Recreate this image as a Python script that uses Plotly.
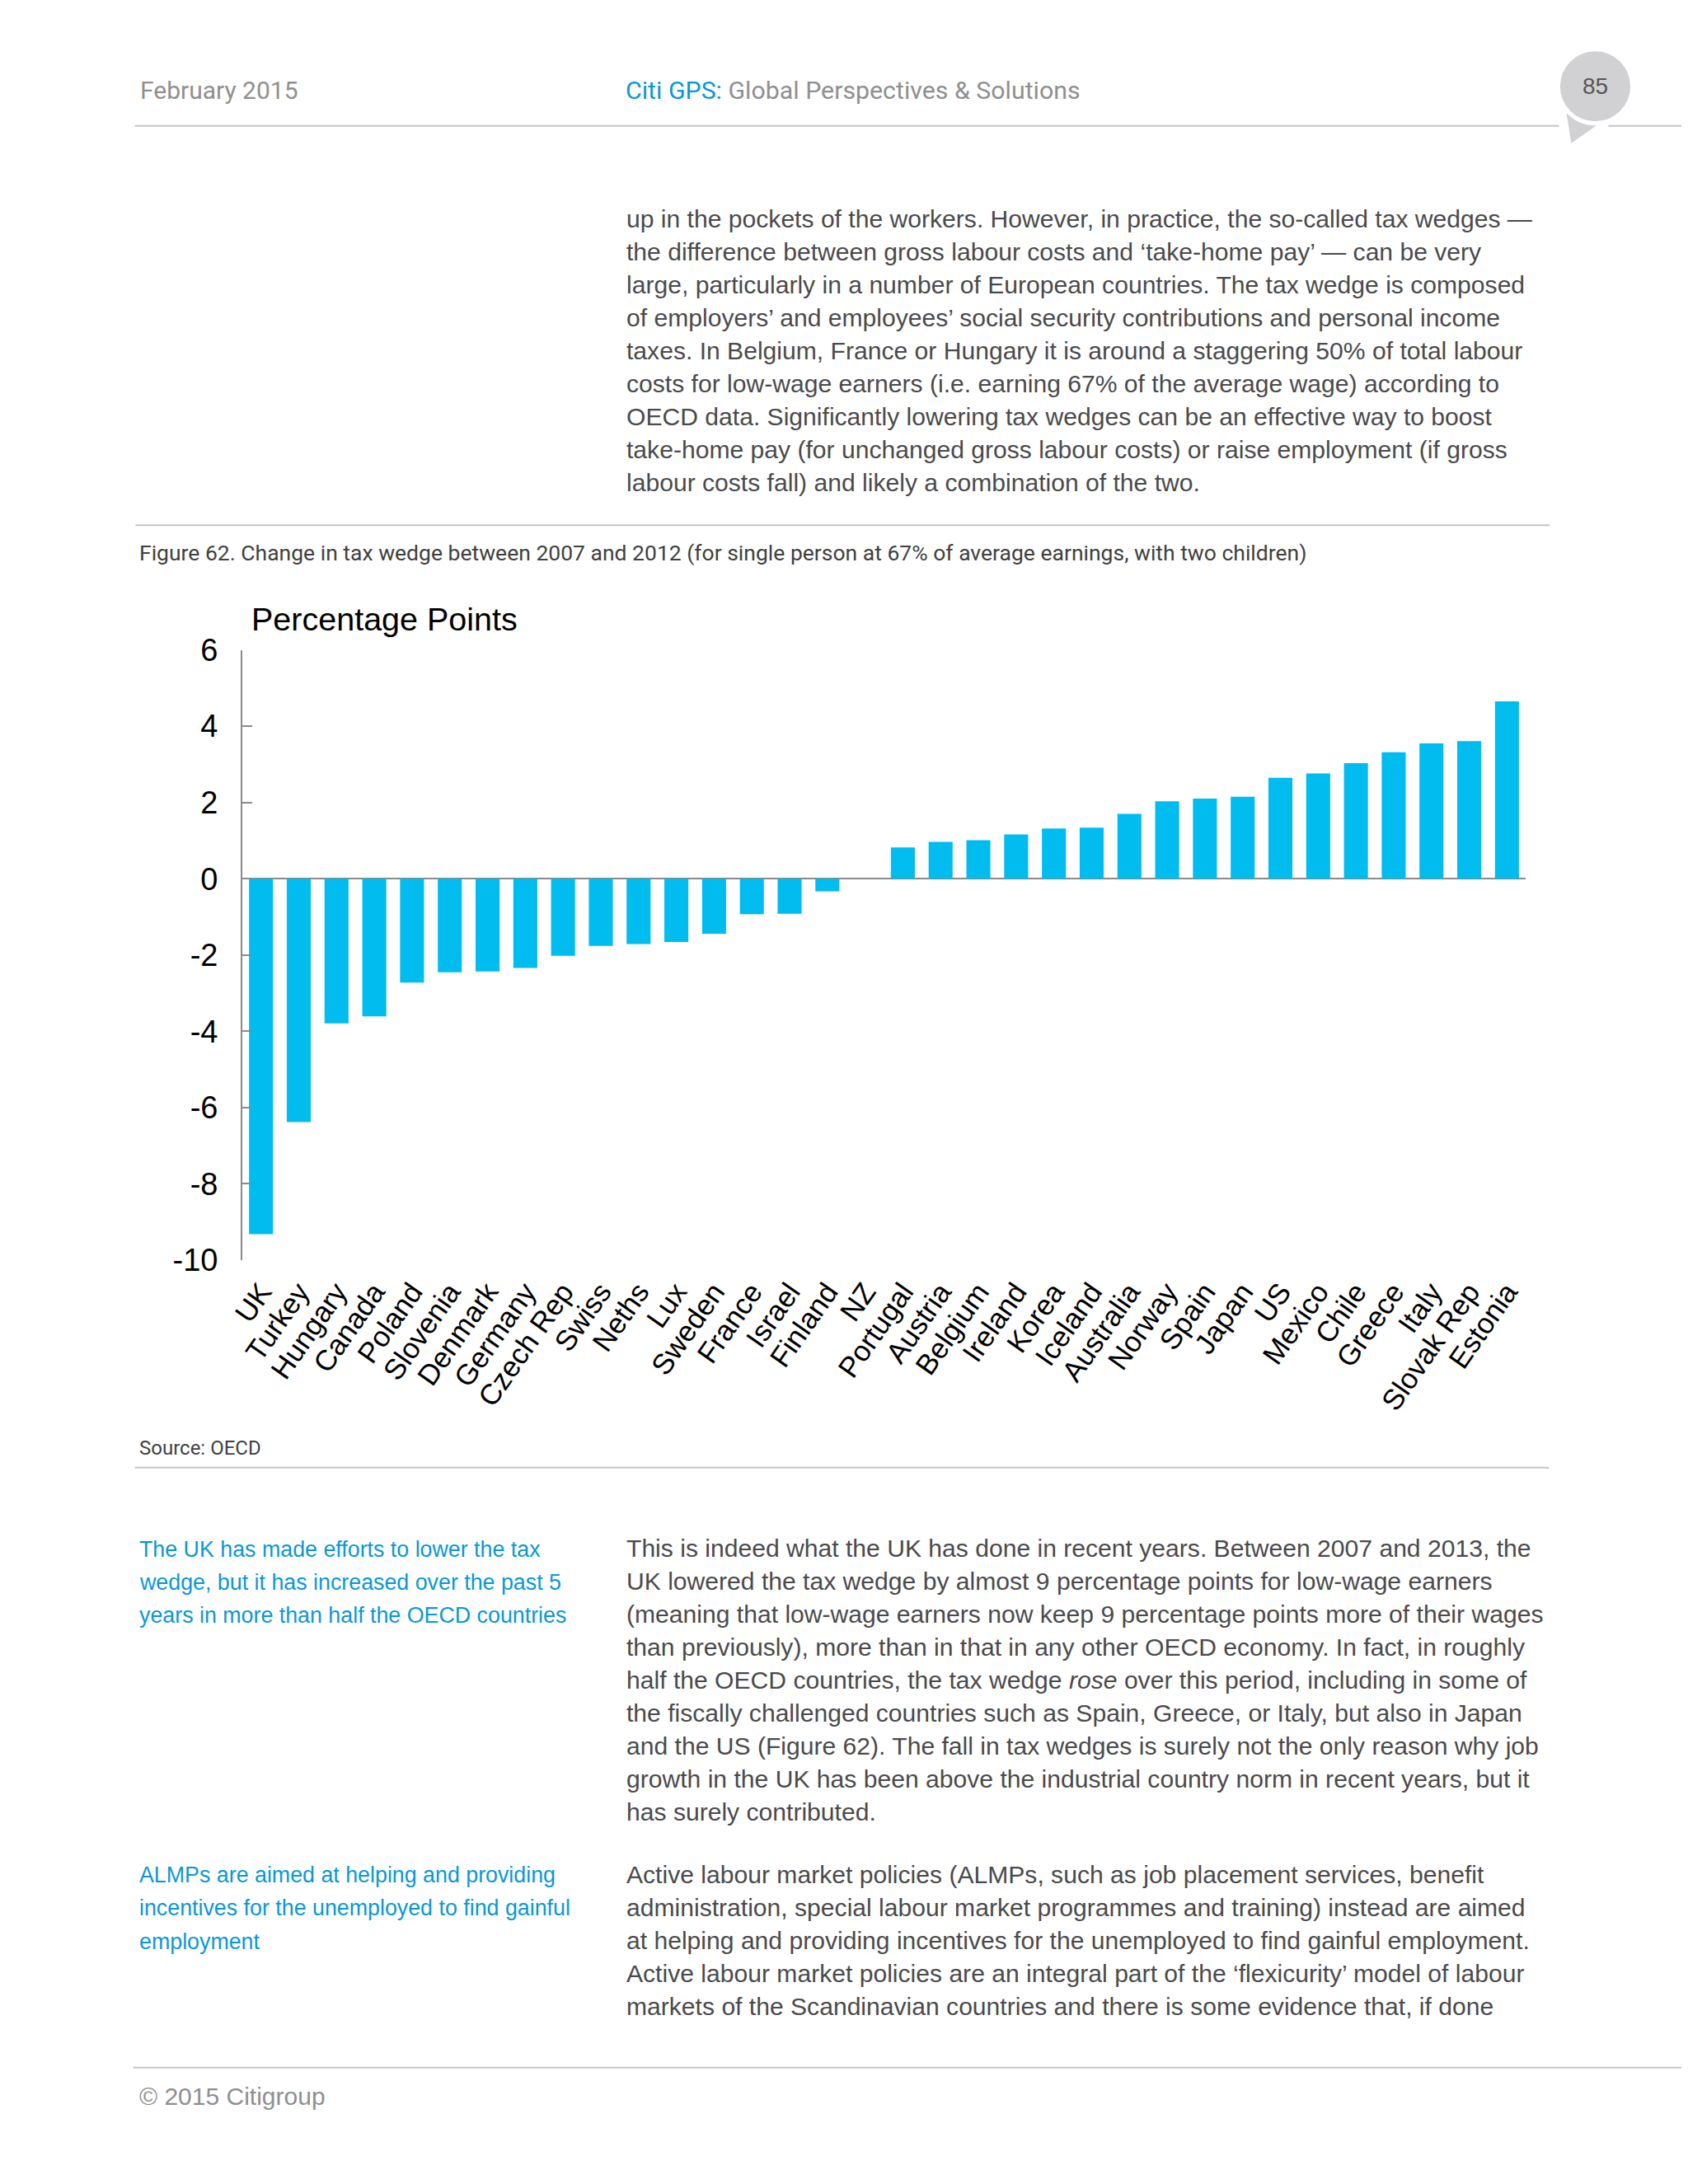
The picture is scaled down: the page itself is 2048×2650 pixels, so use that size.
import plotly.graph_objects as go

# ---------------- data ----------------
countries = ["UK", "Turkey", "Hungary", "Canada", "Poland", "Slovenia", "Denmark",
             "Germany", "Czech Rep", "Swiss", "Neths", "Lux", "Sweden", "France",
             "Israel", "Finland", "NZ", "Portugal", "Austria", "Belgium", "Ireland",
             "Korea", "Iceland", "Australia", "Norway", "Spain", "Japan", "US",
             "Mexico", "Chile", "Greece", "Italy", "Slovak Rep", "Estonia"]
values = [-9.32, -6.38, -3.79, -3.61, -2.72, -2.45, -2.43, -2.34, -2.02, -1.76,
          -1.71, -1.66, -1.44, -0.93, -0.92, -0.33, 0.0, 0.82, 0.97, 1.01, 1.16,
          1.32, 1.34, 1.70, 2.03, 2.10, 2.15, 2.65, 2.76, 3.03, 3.32, 3.55, 3.61, 4.65]
y_tickvals = [6, 4, 2, 0, -2, -4, -6, -8, -10]
y_ticktext = ["6", "4", "2", "0", "-2", "-4", "-6", "-8", "-10"]

para1 = [
    "up in the pockets of the workers. However, in practice, the so-called tax wedges \u2014",
    "the difference between gross labour costs and \u2018take-home pay\u2019 \u2014 can be very",
    "large, particularly in a number of European countries. The tax wedge is composed",
    "of employers\u2019 and employees\u2019 social security contributions and personal income",
    "taxes. In Belgium, France or Hungary it is around a staggering 50% of total labour",
    "costs for low-wage earners (i.e. earning 67% of the average wage) according to",
    "OECD data. Significantly lowering tax wedges can be an effective way to boost",
    "take-home pay (for unchanged gross labour costs) or raise employment (if gross",
    "labour costs fall) and likely a combination of the two.",
]
para2 = [
    "This is indeed what the UK has done in recent years. Between 2007 and 2013, the",
    "UK lowered the tax wedge by almost 9 percentage points for low-wage earners",
    "(meaning that low-wage earners now keep 9 percentage points more of their wages",
    "than previously), more than in that in any other OECD economy. In fact, in roughly",
    "half the OECD countries, the tax wedge <i>rose</i> over this period, including in some of",
    "the fiscally challenged countries such as Spain, Greece, or Italy, but also in Japan",
    "and the US (Figure 62). The fall in tax wedges is surely not the only reason why job",
    "growth in the UK has been above the industrial country norm in recent years, but it",
    "has surely contributed.",
]
para3 = [
    "Active labour market policies (ALMPs, such as job placement services, benefit",
    "administration, special labour market programmes and training) instead are aimed",
    "at helping and providing incentives for the unemployed to find gainful employment.",
    "Active labour market policies are an integral part of the \u2018flexicurity\u2019 model of labour",
    "markets of the Scandinavian countries and there is some evidence that, if done",
]
side1 = ["The UK has made efforts to lower the tax",
         "wedge, but it has increased over the past 5",
         "years in more than half the OECD countries"]
side2 = ["ALMPs are aimed at helping and providing",
         "incentives for the unemployed to find gainful",
         "employment"]

caption = ("Figure 62. Change in tax wedge between 2007 and 2012 (for single person at 67% "
           "of average earnings, with two children)")

# ---------------- layout helpers ----------------
W, H = 2048, 2650
# observed page->photo mapping correction
AX, BX = 0.9895, 27.8
AY, BY = 0.9854, 27.1


def X(p):
    return ((p - BX) / AX) / W


def Y(p):
    return 1 - ((p - BY) / AY) / H


BAR = "#00BCEF"
AXIS = "#8a8a8a"
BODY = "#4a4a4c"
BLUE = "#0a98d4"
RULE = "#c4c4c4"
CHART_FONT = "Liberation Sans, Arial, sans-serif"
HEAD = "Roboto, sans-serif"

fig = go.Figure()
fig.add_trace(go.Bar(x=countries, y=values, marker=dict(color=BAR, line=dict(width=0)),
                     hoverinfo="x+y"))

plot_x0, plot_x1 = 296, 1850
plot_top, plot_bot = 787.7, 1529.0

fig.update_layout(
    width=W, height=H,
    margin=dict(l=0, r=0, t=0, b=0),
    paper_bgcolor="white", plot_bgcolor="white",
    showlegend=False,
    bargap=0.365,
    xaxis=dict(domain=[X(plot_x0), X(plot_x1)], type="category",
               range=[-0.5, len(countries) - 0.5],
               showline=False, showgrid=False, zeroline=False, ticks="",
               ticklabelstandoff=10,
               tickangle=-55, tickfont=dict(family=CHART_FONT, size=35, color="black")),
    yaxis=dict(domain=[Y(plot_bot), Y(plot_top)], range=[-10, 6],
               tickvals=y_tickvals, ticktext=y_ticktext,
               showline=True, linecolor=AXIS, linewidth=1.5,
               ticks="inside", ticklen=12, tickwidth=1.5, tickcolor=AXIS,
               showgrid=False, zeroline=True, zerolinecolor=AXIS, zerolinewidth=1.5,
               ticklabelstandoff=20,
               tickfont=dict(family=CHART_FONT, size=38, color="black")),
)

shapes = []


def hline(x0, x1, y, color=RULE, w=2):
    shapes.append(dict(type="line", xref="paper", yref="paper",
                       x0=X(x0), x1=X(x1), y0=Y(y), y1=Y(y),
                       line=dict(color=color, width=w)))


# header rule with page-number bubble
hline(166, 1890, 151)
hline(1950, 2060, 151)
shapes.append(dict(type="path", xref="paper", yref="paper",
                   path=f"M {X(1898)},{Y(128)} L {X(1942)},{Y(146)} L {X(1905)},{Y(172)} Z",
                   fillcolor="#d1d1d3", line=dict(width=0)))
shapes.append(dict(type="circle", xref="paper", yref="paper",
                   x0=X(1934 - 45), x1=X(1934 + 45), y0=Y(103 + 45), y1=Y(103 - 45),
                   fillcolor="#d1d1d3", line=dict(color="white", width=5)))
# figure rules
hline(167, 1879, 636)
hline(166, 1878, 1781)
hline(164, 2060, 2510)
fig.update_layout(shapes=shapes)


def txt(x, y, s, size, color, family, xanchor="left"):
    fig.add_annotation(x=X(x), y=Y(y), xref="paper", yref="paper", text=s,
                       showarrow=False, xanchor=xanchor, yanchor="middle",
                       font=dict(size=size, color=color, family=family))


# header
txt(170, 108, "February 2015", 30, "#8f8f8f", HEAD)
txt(758, 108, f"<span style='color:{BLUE}'>Citi GPS:</span> Global Perspectives &amp; Solutions",
    30.3, "#8f8f8f", HEAD)
txt(1934, 103, "85", 28, "#555555", CHART_FONT, xanchor="center")

# body text
for i, line in enumerate(para1):
    txt(759, 264 + 40.1 * i, line, 30.1, BODY, CHART_FONT)
for i, line in enumerate(para2):
    txt(759, 1879 + 40.1 * i, line, 30.1, BODY, CHART_FONT)
for i, line in enumerate(para3):
    txt(759, 2275 + 40.1 * i, line, 30.1, BODY, CHART_FONT)
for i, line in enumerate(side1):
    txt(169, 1880 + 40.3 * i, line, 26.8, BLUE, CHART_FONT)
for i, line in enumerate(side2):
    txt(169, 2276 + 40.3 * i, line, 26.8, BLUE, CHART_FONT)

# figure caption, axis title, source
txt(169, 669, caption, 26.5, "#404040", HEAD)
txt(305, 750, "Percentage Points", 39.5, "black", CHART_FONT)
txt(169, 1757, "Source: OECD", 24, "#404040", HEAD)

# footer
txt(169, 2545, "\u00a9 2015 Citigroup", 30, "#8f8f8f", CHART_FONT)

fig.write_html("out.html")
